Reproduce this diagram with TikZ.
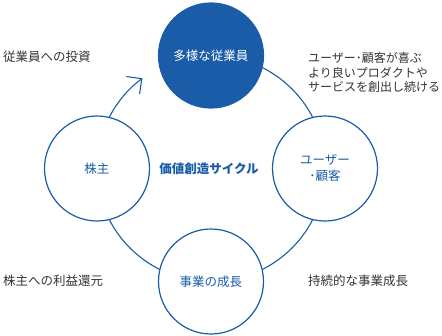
\documentclass[tikz,border=0pt]{standalone}
\usepackage{fontspec}
\setmainfont{Noto Sans CJK JP}
\usepackage{xcolor}
\usetikzlibrary{arrows.meta,positioning,backgrounds}
\definecolor{cycleblue}{HTML}{1B5CA8}
\definecolor{labelgray}{HTML}{333333}

\begin{document}
\begin{tikzpicture}[x=1pt, y=1pt, font=\fontsize{12.5}{14.5}\selectfont,
    stage/.style={draw=cycleblue, circle, line width=1.2pt, fill=white, text=cycleblue, minimum size=105pt, inner sep=0pt, align=center},
    note/.style={text=labelgray, anchor=west, align=left, inner sep=0pt},
    flow/.style={draw=cycleblue, line width=1.1pt}]
    \useasboundingbox (-211,168.5) rectangle (231,-166.5);
    \node [stage, fill=cycleblue, text=white] (emp) at (0,113) {多様な従業員};
    \node [stage, font=\fontsize{12.5}{16}\selectfont] (usr) at (114,0) {ユーザー\\･顧客};
    \node [stage] (grw) at (0,-113) {事業の成長};
    \node [stage] (shr) at (-114,0) {株主};
    \node [text=cycleblue, font=\fontsize{12.5}{14.5}\selectfont\bfseries] (title) at (-2,0) {価値創造サイクル};
    \node [note] (invest) at (-208,111.5) {従業員への投資};
    \node [note, font=\fontsize{12}{14.5}\selectfont] (create) at (97,96) {ユーザー･顧客が喜ぶ\\より良いプロダクトや\\サービスを創出し続ける};
    \node [note] (return) at (-208,-112.5) {株主への利益還元};
    \node [note] (sustain) at (97,-112.5) {持続的な事業成長};
    \begin{scope}[on background layer]
        \path [flow] (emp.center) arc[start angle=90, end angle=-90, x radius=114, y radius=113];
        \path [flow] (grw.center) arc[start angle=-90, end angle=-180, x radius=114, y radius=113];
        \path [flow, -{Straight Barb[length=11pt, width=22pt]}] (shr.center) arc[start angle=180, end angle=127, x radius=114, y radius=113];
    \end{scope}
\end{tikzpicture}
\end{document}
